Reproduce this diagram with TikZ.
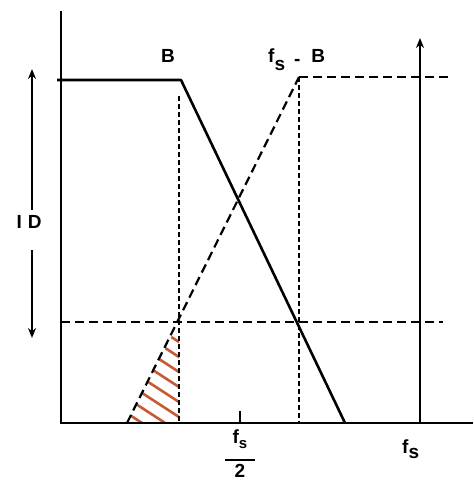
\documentclass[tikz,border=0pt]{standalone}
\usepackage{fontspec}
\setmainfont{Liberation Sans}
\usetikzlibrary{arrows.meta}
\definecolor{hatchc}{RGB}{200,90,50}
\tikzset{
  axis/.style={line width=2.6pt},
  curve/.style={line width=2.6pt},
  dashline/.style={line width=1.6pt, dash pattern=on 9pt off 5pt},
  vdash/.style={line width=2.4pt, dash pattern=on 5pt off 3pt},
  hatchline/.style={hatchc, line width=2.6pt},
  arr/.style={line width=2.2pt, -{Stealth[length=10pt,width=8pt]}},
  lbl/.style={font=\fontsize{19}{22}\selectfont\bfseries, inner sep=0pt}
}
\begin{document}
\begin{tikzpicture}[x=1pt,y=-1pt]
\useasboundingbox (0,0) rectangle (473,481);
% key points
\coordinate (O) at (61,423);
\coordinate (ytop) at (61,11);
\coordinate (xend) at (473,423);
\coordinate (plL) at (57,80);
\coordinate (plR) at (181,80);
\coordinate (fallEnd) at (345,423);
\coordinate (riseStart) at (127,423);
\coordinate (riseTop) at (299,77);
\coordinate (topDashEnd) at (450,77);
\coordinate (vBtop) at (179,96);
\coordinate (vBbot) at (179,423);
\coordinate (vFBbot) at (299,423);
\coordinate (hL) at (61,322);
\coordinate (hR) at (443,322);
\coordinate (apex) at (179,322);
\coordinate (fsBot) at (420,423);
\coordinate (fsTop) at (420,38);
\coordinate (tickTop) at (240,411);
\coordinate (tickBot) at (240,423);
% hatching
\begin{scope}
\clip (riseStart) -- (apex) -- (vBbot) -- cycle;
\foreach \yi in {342,357,372,387,402,417,432,447,462}{
  \draw[hatchline] (79,\yi-65) -- (199,\yi+13);
}
\end{scope}
% axes
\draw[axis] (ytop) -- (O) -- (xend);
\draw[axis] (tickTop) -- (tickBot);
% dashed lines
\draw[dashline] (hL) -- (hR);
\draw[dashline] (riseTop) -- (topDashEnd);
\draw[dashline, line width=2.2pt] (riseStart) -- (riseTop);
\draw[vdash] (vBtop) -- (vBbot);
\draw[vdash] (riseTop) -- (vFBbot);
% solid response
\draw[curve, line join=round] (plL) -- (plR) -- (fallEnd);
% fs arrow
\draw[arr] (fsBot) -- (fsTop);
% ID
\node[lbl] (ID) at (29,222) {I\hspace{6pt}D};
\coordinate (idUpT) at (32,210);
\coordinate (idUpH) at (32,69);
\coordinate (idDnT) at (32,250);
\coordinate (idDnH) at (32,338);
\draw[arr] (idUpT) -- (idUpH);
\draw[arr] (idDnT) -- (idDnH);
% labels
\node[lbl] (B) at (168,56) {B};
\node[lbl, anchor=base west] (fsB) at (268,63) {f\raisebox{-8pt}{s}\hspace{9pt}\raisebox{-3pt}{-}\hspace{11pt}B};
\node[lbl, anchor=base west] (fs) at (402,453) {f\raisebox{-5pt}{s}};
\node[lbl] (half) at (240,456) {\begin{tabular}{@{}c@{}}f\raisebox{-5pt}{\fontsize{15}{15}\selectfont s}\\[-4pt]\rule{30pt}{2.2pt}\\[-6pt]2\end{tabular}};
\end{tikzpicture}
\end{document}
